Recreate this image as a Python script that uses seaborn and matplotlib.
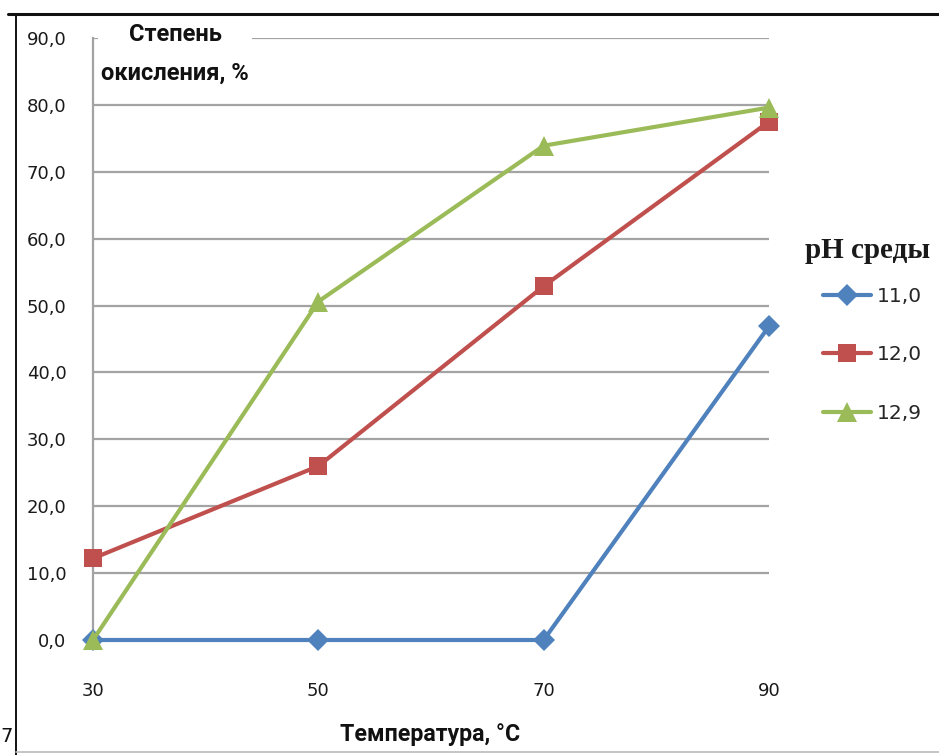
import matplotlib
matplotlib.use("Agg")
import matplotlib.pyplot as plt
from matplotlib.lines import Line2D
import seaborn as sns
import pandas as pd

# Temperature, °C
temperatures = [30, 50, 70, 90]
# Degree of oxidation, % for each pH of the medium
ph_labels = ["11,0", "12,0", "12,9"]
oxidation_ph_11_0 = [0.0, 0.0, 0.0, 46.9]
oxidation_ph_12_0 = [12.2, 26.0, 52.9, 77.5]
oxidation_ph_12_9 = [0.0, 50.6, 73.9, 79.6]
y_ticks = [0, 10, 20, 30, 40, 50, 60, 70, 80, 90]

colors = ["#4F81BD", "#C0504D", "#9BBB59"]
markers = ["D", "s", "^"]
marker_sizes = [11, 13.5, 14.5]

series = [oxidation_ph_11_0, oxidation_ph_12_0, oxidation_ph_12_9]
df = pd.concat(
    [pd.DataFrame({"T": temperatures, "val": vals, "pH": lab})
     for lab, vals in zip(ph_labels, series)],
    ignore_index=True,
)

sns.set_theme(style="white")
plt.rcParams["font.family"] = ["DejaVu Sans"]

W, H = 939, 755
fig = plt.figure(figsize=(W / 100, H / 100), dpi=100)
fig.patch.set_facecolor("white")

x0, x1 = 93, 769
y0, y1 = 640, 38
ax = fig.add_axes([x0 / W, 1 - y0 / H, (x1 - x0) / W, (y0 - y1) / H])
ax.set_facecolor("white")

ax.set_xlim(30, 90)
ax.set_ylim(0, 90)
ax.set_yticks(y_ticks)
ax.set_yticklabels([f"{v:.1f}".replace(".", ",") for v in y_ticks])
ax.set_xticks(temperatures)
ax.set_xticklabels([str(t) for t in temperatures])

for yv in y_ticks[1:]:
    ax.axhline(yv, color="#A3A3A3", lw=1.6, zorder=1)

for lab, col, mk, ms in zip(ph_labels, colors, markers, marker_sizes):
    sub = df[df["pH"] == lab]
    sns.lineplot(data=sub, x="T", y="val", ax=ax, color=col, lw=3.0,
                 marker=mk, markersize=ms, markeredgewidth=0,
                 clip_on=False, zorder=5, legend=False)

for side in ["top", "right", "bottom"]:
    ax.spines[side].set_visible(False)
ax.spines["left"].set_color("#A3A3A3")
ax.spines["left"].set_linewidth(1.6)
ax.tick_params(axis="both", length=0, labelsize=13, labelcolor="#1a1a1a")
ax.tick_params(axis="y", pad=19)
ax.tick_params(axis="x", pad=30)
ax.set_xlabel("")
ax.set_ylabel("")

# Axis titles
title_font = ["Roboto", "DejaVu Sans"]
ax.text((175 - x0) / (x1 - x0), (y0 - 54) / (y0 - y1),
        "Степень\nокисления, %", transform=ax.transAxes,
        ha="center", va="center", fontsize=17, fontweight="bold",
        family=title_font, color="#111111", linespacing=1.9,
        bbox=dict(facecolor="white", edgecolor="none", pad=2), zorder=10)
fig.text(430 / W, 1 - 735 / H, "Температура, °C", ha="center", va="center",
         fontsize=16.7, fontweight="bold", family=title_font, color="#111111")

# Legend
fig.text(805 / W, 1 - 250 / H, "pH среды", ha="left", va="center",
         fontsize=21, fontweight="bold", family=["Liberation Serif"],
         color="#1a1a1a")
handles = [Line2D([0], [0], color=c, lw=3.0, marker=m, markersize=s,
                  markeredgewidth=0)
           for c, m, s in zip(colors, markers, marker_sizes)]
leg = fig.legend(handles, ph_labels,
                 loc="upper left", bbox_to_anchor=(809 / W, 1 - 273 / H),
                 frameon=False, fontsize=14.5, handlelength=2.4,
                 handletextpad=0.25, labelspacing=1.95, borderpad=0.2)

# Page frame around the chart
fig.add_artist(Line2D([8 / W, 1], [1 - 14 / H, 1 - 14 / H], color="#111111", lw=2.2))
fig.add_artist(Line2D([16 / W, 16 / W], [0, 1 - 14 / H], color="#111111", lw=1.4))
fig.add_artist(Line2D([16 / W, 1], [1 - 752 / H, 1 - 752 / H], color="#BBBBBB", lw=1.2))
fig.text(0 / W, 1 - 737 / H, "7", ha="left", va="center", fontsize=14, color="#111111")

fig.savefig("out.png", dpi=100, facecolor="white")
